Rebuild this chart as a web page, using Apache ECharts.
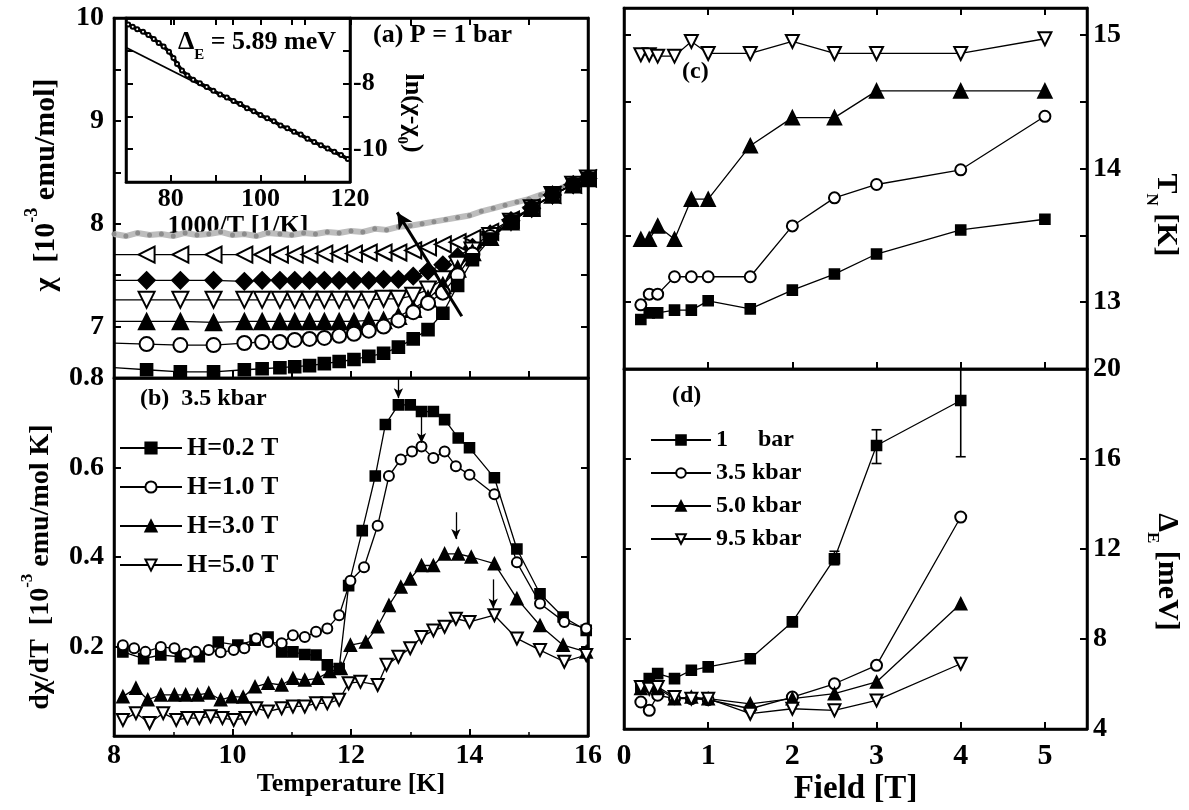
<!DOCTYPE html>
<html><head><meta charset="utf-8">
<script src="https://cdn.jsdelivr.net/npm/echarts@6/dist/echarts.min.js"></script>
<style>html,body{margin:0;padding:0;background:#fff}#c{width:1189px;height:810px}</style>
</head><body><div id="c"></div>
<script>
// ---------- Panel (a): chi vs T, P = 1 bar ----------
const tempsA = [8.0, 8.55, 9.12, 9.68, 10.2, 10.5, 10.8, 11.05, 11.3, 11.55, 11.8, 12.05, 12.3, 12.55, 12.8, 13.05, 13.3, 13.55, 13.8, 14.05, 14.35, 14.7, 15.05, 15.4, 15.75, 16.0];
const chiLeftTri = [7.70,7.70,7.70,7.70,7.70,7.70,7.70,7.70,7.70,7.71,7.71,7.71,7.72,7.72,7.72,7.74,7.77,7.80,7.82,7.86,7.92,8.04,8.16,8.28,8.38,8.44];
const chiDiamond = [7.45,7.45,7.45,7.45,7.44,7.45,7.45,7.45,7.45,7.45,7.45,7.45,7.45,7.46,7.46,7.49,7.54,7.60,7.68,7.77,7.90,8.03,8.15,8.28,8.38,8.44];
const chiDownTri = [7.26,7.26,7.26,7.26,7.26,7.26,7.26,7.26,7.26,7.26,7.26,7.26,7.26,7.27,7.27,7.30,7.36,7.46,7.60,7.74,7.88,8.02,8.15,8.28,8.38,8.44];
const chiUpTri   = [7.05,7.05,7.05,7.04,7.05,7.05,7.05,7.05,7.05,7.05,7.05,7.05,7.06,7.06,7.10,7.17,7.27,7.40,7.56,7.72,7.87,8.02,8.15,8.28,8.38,8.44];
const chiCircle  = [6.84,6.83,6.82,6.82,6.84,6.85,6.85,6.87,6.88,6.89,6.91,6.93,6.96,7.00,7.06,7.14,7.23,7.33,7.50,7.70,7.87,8.02,8.15,8.28,8.38,8.44];
const chiSquare  = [6.60,6.58,6.56,6.56,6.58,6.59,6.60,6.61,6.62,6.64,6.66,6.68,6.71,6.74,6.80,6.88,6.97,7.13,7.40,7.65,7.85,8.02,8.15,8.28,8.38,8.44];
const tempsGray = [8.0,8.2,8.4,8.6,8.8,9.0,9.2,9.4,9.6,9.8,10.0,10.2,10.4,10.6,10.8,11.0,11.2,11.4,11.6,11.8,12.0,12.2,12.4,12.6,12.8,13.0,13.2,13.4,13.6,13.8,14.0,14.2,14.4,14.6,14.8,15.0,15.2,15.4,15.6,15.8,16.0];
const chiGray   = [7.90,7.88,7.91,7.89,7.90,7.88,7.91,7.89,7.90,7.92,7.89,7.90,7.88,7.91,7.90,7.89,7.91,7.90,7.92,7.91,7.93,7.92,7.95,7.94,7.97,7.98,8.00,8.02,8.04,8.06,8.08,8.12,8.15,8.18,8.21,8.24,8.28,8.31,8.36,8.40,8.45];
const arrowA = [[12.78, 8.11], [13.87, 7.10]];

// ---------- Inset: ln(chi - chi0) vs 1000/T ----------
const insetX = [70.5,71.5,72.5,73.8,75.0,76.2,77.3,78.4,79.6,80.6,81.4,82.5,83.7,85.0,86.5,88.0,89.5,91.0,92.5,94.0,95.5,97.0,98.5,100.0,101.5,103.0,104.5,106.0,107.5,109.0,110.5,112.0,113.5,115.0,116.5,118.0,119.5];
const insetY = [-6.20,-6.27,-6.34,-6.42,-6.52,-6.64,-6.76,-6.87,-7.03,-7.22,-7.40,-7.60,-7.75,-7.88,-7.99,-8.10,-8.22,-8.33,-8.42,-8.53,-8.62,-8.75,-8.84,-8.96,-9.06,-9.15,-9.28,-9.36,-9.47,-9.55,-9.68,-9.78,-9.88,-9.98,-10.08,-10.18,-10.30];
const fitX = [70, 120];
const fitY = [-6.9, -10.35];

// ---------- Panel (b): dchi/dT vs T at 3.5 kbar ----------
const tB02 = [8.15,8.5,8.79,9.12,9.44,9.76,10.09,10.38,10.6,10.83,11.02,11.22,11.41,11.6,11.8,11.96,12.19,12.41,12.58,12.8,13.0,13.19,13.39,13.58,13.81,14.0,14.42,14.8,15.19,15.58,15.97];
const vB02 = [0.188,0.173,0.181,0.177,0.177,0.21,0.203,0.214,0.221,0.188,0.188,0.182,0.181,0.159,0.151,0.336,0.459,0.581,0.696,0.74,0.74,0.725,0.725,0.707,0.666,0.644,0.577,0.418,0.318,0.266,0.236];
const tB10 = [8.15,8.34,8.53,8.79,9.02,9.21,9.38,9.6,9.8,10.02,10.2,10.4,10.6,10.83,11.02,11.22,11.41,11.6,11.8,11.99,12.22,12.45,12.64,12.84,13.03,13.19,13.39,13.58,13.77,14.0,14.42,14.8,15.19,15.6,15.97];
const vB10 = [0.203,0.196,0.188,0.199,0.196,0.184,0.188,0.192,0.187,0.192,0.196,0.218,0.21,0.207,0.225,0.221,0.233,0.24,0.27,0.347,0.377,0.47,0.581,0.618,0.636,0.647,0.621,0.636,0.603,0.584,0.54,0.388,0.296,0.255,0.24];
const tB30 = [8.15,8.37,8.57,8.79,9.02,9.21,9.41,9.6,9.8,9.99,10.18,10.38,10.6,10.83,11.02,11.22,11.44,11.64,11.83,11.99,12.25,12.45,12.64,12.84,13.0,13.19,13.39,13.58,13.81,14.03,14.42,14.8,15.19,15.58,15.97];
const vB30 = [0.088,0.107,0.081,0.092,0.092,0.092,0.092,0.096,0.081,0.088,0.087,0.11,0.118,0.114,0.129,0.125,0.129,0.144,0.151,0.203,0.21,0.244,0.292,0.333,0.351,0.381,0.381,0.407,0.407,0.4,0.385,0.307,0.247,0.203,0.188];
const tB50 = [8.15,8.37,8.6,8.83,9.05,9.24,9.44,9.63,9.83,10.02,10.22,10.4,10.6,10.83,11.02,11.22,11.41,11.6,11.8,11.96,12.16,12.45,12.6,12.8,13.0,13.19,13.39,13.58,13.77,14.0,14.42,14.8,15.19,15.6,15.97];
const vB50 = [0.036,0.051,0.029,0.051,0.036,0.04,0.04,0.044,0.04,0.036,0.04,0.062,0.055,0.062,0.066,0.066,0.073,0.073,0.081,0.118,0.121,0.114,0.159,0.177,0.196,0.221,0.236,0.244,0.262,0.255,0.27,0.218,0.192,0.166,0.181];
const arrowBT = [12.8, 13.19, 13.77, 14.4];
const arrowBTop = [0.80, 0.72, 0.50, 0.35];
const arrowBEnd = [0.755, 0.655, 0.44, 0.285];
const namesB = ['H=0.2 T', 'H=1.0 T', 'H=3.0 T', 'H=5.0 T'];

// ---------- Panel (c): T_N vs field ----------
const fieldC = [0.2,0.3,0.4,0.6,0.8,1.0,1.5,2.0,2.5,3.0,4.0,5.0];
const tn1bar = [12.87,12.92,12.92,12.94,12.94,13.01,12.95,13.09,13.21,13.36,13.54,13.62];
const tn35 = [12.98,13.06,13.06,13.19,13.19,13.19,13.19,13.57,13.78,13.88,13.99,14.39];
const tn50 = [13.47,13.47,13.57,13.47,13.77,13.77,14.17,14.38,14.38,14.58,14.58,14.58];
const tn95 = [14.85,14.85,14.84,14.84,14.95,14.86,14.86,14.95,14.86,14.86,14.86,14.97];

// ---------- Panel (d): Delta_E vs field ----------
const fieldD = [0.2,0.3,0.4,0.6,0.8,1.0,1.5,2.0,2.5,3.0,4.0];
const gap1bar = [5.9,6.24,6.46,6.24,6.61,6.76,7.12,8.76,11.57,16.6,18.6];
const gap35 = [5.2,4.83,5.5,5.35,5.35,5.3,4.9,5.42,6.01,6.83,13.42];
const gap50 = [5.8,5.94,5.8,5.35,5.42,5.35,5.12,5.35,5.57,6.09,9.57];
const gap95 = [5.87,5.79,5.87,5.42,5.35,5.35,4.68,4.9,4.83,5.27,6.9];
const errField = [2.5, 3.0, 4.0];
const errLow = [11.3, 15.8, 16.1];
const errHigh = [11.9, 17.3, 20.0];
const namesD = ['1     bar', '3.5 kbar', '5.0 kbar', '9.5 kbar'];

// ---------- Build ----------
const F = "'Liberation Serif', 'DejaVu Serif', serif";
const K = '#000';
const zip = (xs, ys) => xs.map((x, i) => [x, ys[i]]);

function ser(name, xs, ys, symbol, size, xi, yi, extra) {
  return Object.assign({
    type: 'line', name: name, data: zip(xs, ys), symbol: symbol, symbolSize: size,
    xAxisIndex: xi, yAxisIndex: yi, animation: false,
    lineStyle: { color: K, width: 1.3 },
    itemStyle: { color: K, borderColor: K, borderWidth: 1.6 },
    emphasis: { disabled: true }
  }, extra || {});
}
function seriesA(name, ys, symbol, size, extra) {
  const s = ser(name, tempsA, ys, symbol, size, 0, 0, extra);
  s.data = s.data.map((p, i) => i === 0 ? { value: p, symbol: 'none' } : p);
  return s;
}

const tickIn = { show: true, inside: true, length: 7, lineStyle: { color: K, width: 2 } };
const axLine = { show: true, onZero: false, lineStyle: { color: K, width: 2.5 } };
const lab = (size, extra) => Object.assign({ color: K, fontFamily: F, fontSize: size, fontWeight: 'bold' }, extra || {});

function vAxis(o) {
  return Object.assign({ type: 'value', axisLine: axLine, axisTick: tickIn, splitLine: { show: false } }, o);
}
const hidden = { show: false };

const option = {
  animation: false,
  backgroundColor: '#fff',
  textStyle: { fontFamily: F },
  grid: [
    { left: 114, top: 18, width: 474, height: 360, show: true, borderColor: K, borderWidth: 2.5 },
    { left: 114, top: 378, width: 474, height: 358, show: true, borderColor: K, borderWidth: 2.5 },
    { left: 624, top: 8, width: 463, height: 361, show: true, borderColor: K, borderWidth: 2.5 },
    { left: 624, top: 369, width: 463, height: 360, show: true, borderColor: K, borderWidth: 2.5 },
    { left: 126, top: 18, width: 224, height: 164, show: true, borderColor: K, borderWidth: 2.5 }
  ],
  xAxis: [
    vAxis({ gridIndex: 0, min: 8, max: 16, interval: 1, axisLabel: hidden }),
    vAxis({ gridIndex: 1, min: 8, max: 16, interval: 2, minorTick: { show: true, splitNumber: 2, length: 4, lineStyle: { color: K, width: 1.5 } },
      axisLabel: lab(28, { margin: 6 }), name: 'Temperature [K]', nameLocation: 'middle', nameGap: 30,
      nameTextStyle: lab(26) }),
    vAxis({ gridIndex: 2, min: 0, max: 5.5, interval: 1, axisLabel: hidden }),
    vAxis({ gridIndex: 3, min: 0, max: 5.5, interval: 1,
      axisLabel: lab(30, { margin: 12, formatter: v => Number.isInteger(v) ? String(v) : '' }),
      name: 'Field [T]', nameLocation: 'middle', nameGap: 44, nameTextStyle: lab(33) }),
    vAxis({ gridIndex: 4, min: 70, max: 120, interval: 10,
      axisLabel: lab(26, { margin: 4, formatter: v => (v === 80 || v === 100 || v === 120) ? String(v) : '' }),
      name: '1000/T [1/K]', nameLocation: 'middle', nameGap: 26, nameTextStyle: lab(26) }),
    vAxis({ gridIndex: 0, position: 'top', min: 8, max: 16, interval: 1, axisLabel: hidden }),
    vAxis({ gridIndex: 2, position: 'top', min: 0, max: 5.5, interval: 1, axisLabel: hidden }),
    vAxis({ gridIndex: 4, position: 'top', min: 70, max: 120, interval: 10, axisLabel: hidden })
  ],
  yAxis: [
    vAxis({ gridIndex: 0, min: 6.5, max: 10, interval: 0.5,
      axisLabel: lab(28, { margin: 10, formatter: v => Number.isInteger(v) ? String(v) : '' }) }),
    vAxis({ gridIndex: 1, min: 0, max: 0.8, interval: 0.2,
      axisLabel: lab(28, { margin: 10, formatter: v => v < 0.05 ? '' : v.toFixed(1) }) }),
    vAxis({ gridIndex: 2, position: 'right', min: 12.5, max: 15.2, interval: 0.5,
      axisLabel: lab(28, { margin: 6, formatter: v => Number.isInteger(v) ? String(v) : '' }) }),
    vAxis({ gridIndex: 3, position: 'right', min: 4, max: 20, interval: 4, axisLabel: lab(28, { margin: 6 }) }),
    vAxis({ gridIndex: 4, position: 'right', min: -11, max: -6, interval: 1,
      axisLabel: lab(26, { margin: 3, formatter: v => (v === -8 || v === -10) ? String(v) : '' }) }),
    vAxis({ gridIndex: 0, position: 'right', min: 6.5, max: 10, interval: 0.5, axisLabel: hidden }),
    vAxis({ gridIndex: 1, position: 'right', min: 0, max: 0.8, interval: 0.2, axisLabel: hidden }),
    vAxis({ gridIndex: 2, position: 'left', min: 12.5, max: 15.2, interval: 0.5, axisLabel: hidden }),
    vAxis({ gridIndex: 3, position: 'left', min: 4, max: 20, interval: 4, axisLabel: hidden }),
    vAxis({ gridIndex: 4, position: 'left', min: -11, max: -6, interval: 1, axisLabel: hidden })
  ],
  legend: [
    { left: 114, top: 430, orient: 'vertical', itemWidth: 62, itemHeight: 14, itemGap: 13, selectedMode: false,
      data: namesB, textStyle: lab(26), inactiveColor: K },
    { left: 645, top: 423, orient: 'vertical', itemWidth: 60, itemHeight: 12, itemGap: 9, selectedMode: false,
      data: namesD, textStyle: lab(24) }
  ],
  series: [
    // panel a
    ser('gray', tempsGray, chiGray, 'circle', 5, 0, 0, {
      lineStyle: { color: '#bdbdbd', width: 6 }, itemStyle: { color: '#8c8c8c' }, z: 1 }),
    seriesA('leftTri', chiLeftTri, 'emptyTriangle', 16, { symbolRotate: 90 }),
    seriesA('diamond', chiDiamond, 'diamond', 17),
    seriesA('downTri', chiDownTri, 'emptyTriangle', 16, { symbolRotate: 180 }),
    seriesA('upTri', chiUpTri, 'triangle', 16),
    seriesA('circle', chiCircle, 'emptyCircle', 14),
    seriesA('square', chiSquare, 'rect', 12, {
      markLine: { silent: true, animation: false, symbol: ['arrow', 'none'], symbolSize: [12, 16],
        lineStyle: { color: K, width: 3, type: 'solid' }, label: { show: false },
        data: [[{ coord: arrowA[0] }, { coord: arrowA[1] }]] } }),
    // inset
    ser('insetData', insetX, insetY, 'emptyCircle', 4, 4, 4, { lineStyle: { color: K, width: 3.5 }, itemStyle: { color: K, borderWidth: 1.2 } }),
    ser('insetFit', fitX, fitY, 'none', 0, 4, 4, { lineStyle: { color: K, width: 1.8 } }),
    // panel b
    ...[[tB02, vB02, 'rect', 10, 0], [tB10, vB10, 'emptyCircle', 10, 0], [tB30, vB30, 'triangle', 12, 0], [tB50, vB50, 'emptyTriangle', 12, 180]]
      .map((d, i) => ser(namesB[i], d[0], d[1], d[2], d[3], 1, 1, {
        symbolRotate: d[4],
        markLine: { silent: true, animation: false, symbol: ['none', 'arrow'], symbolSize: [7, 10],
          lineStyle: { color: K, width: 1.3, type: 'solid' }, label: { show: false },
          data: [[{ coord: [arrowBT[i], arrowBTop[i]] }, { coord: [arrowBT[i], arrowBEnd[i]] }]] }
      })),
    // panel c
    ser('Tn 1 bar', fieldC, tn1bar, 'rect', 10, 2, 2),
    ser('Tn 3.5 kbar', fieldC, tn35, 'emptyCircle', 11, 2, 2),
    ser('Tn 5.0 kbar', fieldC, tn50, 'triangle', 14, 2, 2),
    ser('Tn 9.5 kbar', fieldC, tn95, 'emptyTriangle', 13, 2, 2, { symbolRotate: 180 }),
    // panel d
    ser(namesD[0], fieldD, gap1bar, 'rect', 10, 3, 3),
    ser(namesD[1], fieldD, gap35, 'emptyCircle', 11, 3, 3),
    ser(namesD[2], fieldD, gap50, 'triangle', 12, 3, 3),
    ser(namesD[3], fieldD, gap95, 'emptyTriangle', 12, 3, 3, { symbolRotate: 180 }),
    {
      type: 'custom', name: 'err', xAxisIndex: 3, yAxisIndex: 3, animation: false, z: 3,
      data: errField.map((f, i) => [f, errLow[i], errHigh[i]]),
      renderItem: (params, api) => {
        const lo = api.coord([api.value(0), api.value(1)]);
        const hi = api.coord([api.value(0), api.value(2)]);
        const w = 5, st = { stroke: K, lineWidth: 1.6 };
        return { type: 'group', children: [
          { type: 'line', shape: { x1: lo[0], y1: lo[1], x2: hi[0], y2: hi[1] }, style: st },
          { type: 'line', shape: { x1: lo[0] - w, y1: lo[1], x2: lo[0] + w, y2: lo[1] }, style: st },
          { type: 'line', shape: { x1: hi[0] - w, y1: hi[1], x2: hi[0] + w, y2: hi[1] }, style: st }
        ] };
      }
    }
  ],
  graphic: [
    { type: 'text', left: 373, top: 22, style: { text: '(a) P = 1 bar', fill: K, fontFamily: F, fontSize: 26, fontWeight: 'bold' } },
    { type: 'text', x: 178, y: 46, style: { text: '{a|Δ}{s|E}{a| = 5.89 meV}', verticalAlign: 'middle',
      rich: { a: { fill: K, fontFamily: F, fontSize: 26, fontWeight: 'bold', lineHeight: 34, verticalAlign: 'top' },
              s: { fill: K, fontFamily: F, fontSize: 15, fontWeight: 'bold', lineHeight: 34, verticalAlign: 'bottom' } } } },
    { type: 'text', x: 410, y: 113, rotation: -Math.PI / 2, style: { text: '{a|ln(χ-χ}{s|0}{a|)}', align: 'center', verticalAlign: 'middle',
      rich: { a: { fill: K, fontFamily: F, fontSize: 26, fontWeight: 'bold', lineHeight: 32, verticalAlign: 'top' },
              s: { fill: K, fontFamily: F, fontSize: 15, fontWeight: 'bold', lineHeight: 32, verticalAlign: 'bottom' } } } },
    { type: 'text', left: 140, top: 387, style: { text: '(b)  3.5 kbar', fill: K, fontFamily: F, fontSize: 24, fontWeight: 'bold' } },
    { type: 'text', left: 682, top: 60, style: { text: '(c)', fill: K, fontFamily: F, fontSize: 24, fontWeight: 'bold' } },
    { type: 'text', left: 672, top: 384, style: { text: '(d)', fill: K, fontFamily: F, fontSize: 24, fontWeight: 'bold' } },
    { type: 'text', x: 42, y: 185, rotation: Math.PI / 2, style: { text: '{a|χ  [10}{p|-3}{a| emu/mol]}', align: 'center', verticalAlign: 'middle',
      rich: { a: { fill: K, fontFamily: F, fontSize: 30, fontWeight: 'bold', lineHeight: 38, verticalAlign: 'bottom' },
              p: { fill: K, fontFamily: F, fontSize: 18, fontWeight: 'bold', lineHeight: 38, verticalAlign: 'top' } } } },
    { type: 'text', x: 37, y: 567, rotation: Math.PI / 2, style: { text: '{a|dχ/dT  [10}{p|-3}{a| emu/mol K]}', align: 'center', verticalAlign: 'middle',
      rich: { a: { fill: K, fontFamily: F, fontSize: 28, fontWeight: 'bold', lineHeight: 36, verticalAlign: 'bottom' },
              p: { fill: K, fontFamily: F, fontSize: 17, fontWeight: 'bold', lineHeight: 36, verticalAlign: 'top' } } } },
    { type: 'text', x: 1162, y: 215, rotation: -Math.PI / 2, style: { text: '{a|T}{s|N}{a| [K]}', align: 'center', verticalAlign: 'middle',
      rich: { a: { fill: K, fontFamily: F, fontSize: 30, fontWeight: 'bold', lineHeight: 38, verticalAlign: 'top' },
              s: { fill: K, fontFamily: F, fontSize: 17, fontWeight: 'bold', lineHeight: 38, verticalAlign: 'bottom' } } } },
    { type: 'text', x: 1163, y: 572, rotation: -Math.PI / 2, style: { text: '{a|Δ}{s|E}{a| [meV]}', align: 'center', verticalAlign: 'middle',
      rich: { a: { fill: K, fontFamily: F, fontSize: 30, fontWeight: 'bold', lineHeight: 38, verticalAlign: 'top' },
              s: { fill: K, fontFamily: F, fontSize: 17, fontWeight: 'bold', lineHeight: 38, verticalAlign: 'bottom' } } } }
  ]
};

const chart = echarts.init(document.getElementById('c'), null, { renderer: 'canvas' });
chart.setOption(option);
</script>
</body></html>
